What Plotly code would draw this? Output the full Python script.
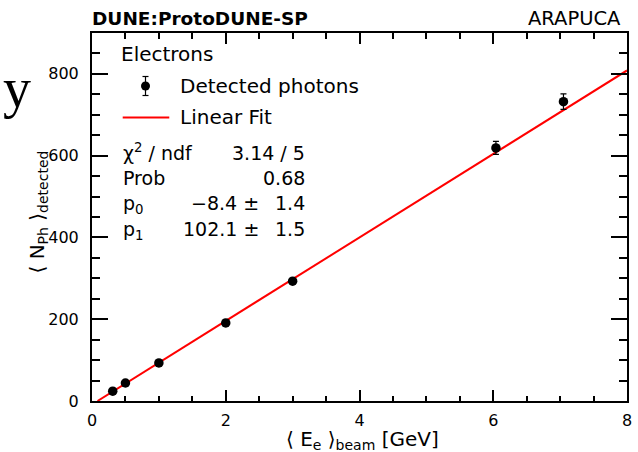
import plotly.graph_objects as go

# ---- data ----
energy = [0.31, 0.5, 1.0, 2.0, 3.0, 6.04, 7.05]          # <E_e>_beam [GeV]
photons = [24, 44, 93, 191, 293, 619, 732]                # <N_Ph>_detected
photon_err = [3, 3, 3, 4, 5, 16, 19]
fit_p0 = -8.4
fit_p0_err = 1.4
fit_p1 = 102.1
fit_p1_err = 1.5
chi2 = 3.14
ndf = 5
prob = 0.68
x_range = [0, 8]
y_range = [0, 900]

FONT = "DejaVu Sans"
W, H = 638, 452
L, R, T, B = 92, 632, 33, 401


def px(x):
    return (x - L) / (R - L)


def py(y):
    return (B - y) / (B - T)


fig = go.Figure()

# fit line from parameters
x_start = max(x_range[0], -fit_p0 / fit_p1)
fit_x = [x_start, x_range[1]]
fit_y = [fit_p0 + fit_p1 * v for v in fit_x]
fig.add_trace(go.Scatter(x=fit_x, y=fit_y, mode="lines",
                         line=dict(color="#ff0000", width=2),
                         showlegend=False, hoverinfo="skip"))

fig.add_trace(go.Scatter(
    x=energy, y=photons, mode="markers",
    marker=dict(color="black", size=9.5, symbol="circle"),
    error_y=dict(type="data", array=photon_err, color="black", thickness=1.2, width=3),
    showlegend=False))

axis_common = dict(
    showline=True, linecolor="black", linewidth=2, mirror="allticks",
    ticks="inside", tickcolor="black", tickwidth=1.5,
    showgrid=False, zeroline=False,
    tickfont=dict(family=FONT, size=16, color="black"),
)

fig.update_xaxes(range=x_range, dtick=2, tick0=0, ticklen=11,
                 minor=dict(dtick=0.5, ticklen=5.5, tickwidth=1.5, tickcolor="black", ticks="inside", showgrid=False),
                 ticklabelstandoff=4,
                 **axis_common)
fig.update_yaxes(range=y_range, dtick=200, tick0=0, ticklen=16,
                 minor=dict(dtick=50, ticklen=8, tickwidth=1.5, tickcolor="black", ticks="inside", showgrid=False),
                 ticklabelstandoff=8,
                 **axis_common)

ann = []


def add_text(text, x, y, size, xanchor="left", yanchor="middle", bold=False, family=FONT, angle=0):
    ann.append(dict(text=f"<b>{text}</b>" if bold else text,
                    x=px(x), y=py(y), xref="paper", yref="paper",
                    xanchor=xanchor, yanchor=yanchor, showarrow=False,
                    textangle=angle,
                    font=dict(family=family, size=size, color="black")))


add_text("DUNE:ProtoDUNE-SP", 90, 18, 18.5, bold=True)
add_text("ARAPUCA", 628, 18, 19.5, xanchor="right")
add_text("y", 16, 88, 56, xanchor="center", family="Liberation Serif")

# axis titles
add_text("⟨ N<sub>Ph</sub> ⟩<sub>detected</sub>", 37, 212, 20, xanchor="center", angle=-90)
add_text("⟨ E<sub>e</sub> ⟩<sub>beam</sub> [GeV]", 444, 440, 20, xanchor="right")

# legend
add_text("Electrons", 119, 54, 20)
add_text("Detected photons", 179, 86, 20)
add_text("Linear Fit", 179, 117, 20)

# statistics box
add_text("χ<sup>2</sup> / ndf", 121, 152, 19)
add_text(f"{chi2:.2f} / {ndf}", 309, 153, 19, xanchor="right")
add_text("Prob", 121, 178, 19)
add_text(f"{prob:.2f}", 309, 178, 19, xanchor="right")
add_text("p<sub>0</sub>", 121, 204, 19)
add_text(f"{fit_p0:.1f} ±".replace("-", "−"), 263, 203, 19, xanchor="right")
add_text(f"{fit_p0_err:.1f}", 309, 203, 19, xanchor="right")
add_text("p<sub>1</sub>", 121, 230, 19)
add_text(f"{fit_p1:.1f} ±", 263, 229, 19, xanchor="right")
add_text(f"{fit_p1_err:.1f}", 309, 229, 19, xanchor="right")

shapes = []
# legend symbol: marker with error bar
mx, my = px(146), py(86)
shapes.append(dict(type="circle", xref="paper", yref="paper", xsizemode="pixel", ysizemode="pixel",
                   xanchor=mx, yanchor=my, x0=-4.5, x1=4.5, y0=-4.5, y1=4.5,
                   fillcolor="black", line=dict(color="black", width=0)))
shapes.append(dict(type="line", xref="paper", yref="paper", xsizemode="pixel", ysizemode="pixel",
                   xanchor=mx, yanchor=my, x0=0, x1=0, y0=-9.5, y1=9.5,
                   line=dict(color="black", width=1.2)))
for s in (-9.5, 9.5):
    shapes.append(dict(type="line", xref="paper", yref="paper", xsizemode="pixel", ysizemode="pixel",
                       xanchor=mx, yanchor=my, x0=-3, x1=3, y0=s, y1=s,
                       line=dict(color="black", width=1.2)))
# legend symbol: fit line
shapes.append(dict(type="line", xref="paper", yref="paper",
                   x0=px(123), x1=px(170), y0=py(117.5), y1=py(117.5),
                   line=dict(color="#ff0000", width=2)))

fig.update_layout(
    width=W, height=H, autosize=False,
    margin=dict(l=L, r=W - R, t=T, b=H - B, pad=0),
    paper_bgcolor="white", plot_bgcolor="white",
    annotations=ann, shapes=shapes,
    showlegend=False,
    font=dict(family=FONT, color="black"),
)

fig.write_html("out.html",
               config={"displayModeBar": False, "responsive": False},
               post_script="document.documentElement.style.overflow='hidden';document.body.style.margin='0';document.body.style.padding='0';document.body.style.overflow='hidden';")
